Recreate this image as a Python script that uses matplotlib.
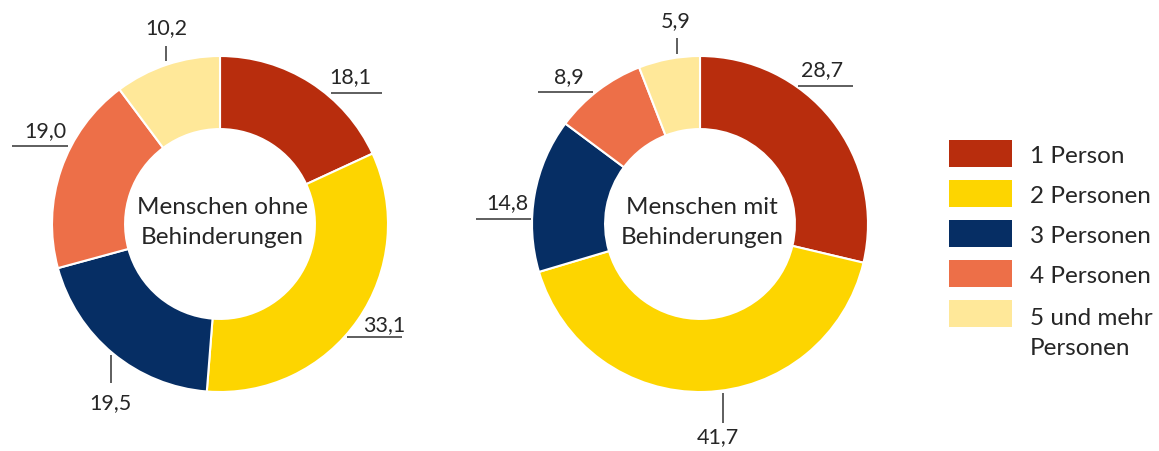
import matplotlib.pyplot as plt
from matplotlib.patches import Rectangle

W, H = 1159, 451

kategorien = ["1 Person", "2 Personen", "3 Personen", "4 Personen", "5 und mehr\nPersonen"]
ohne_behinderung = [18.1, 33.1, 19.5, 19.0, 10.2]
mit_behinderung = [28.7, 41.7, 14.8, 8.9, 5.9]
titel = ["Menschen ohne\nBehinderungen", "Menschen mit\nBehinderungen"]
farben = ["#B82D0D", "#FDD500", "#062E64", "#ED6F48", "#FFE899"]

# Führungslinien und Beschriftung je Segment, in Radien: (Linienstart, Linienende, Textmitte)
lage_ohne = [
    ((0.661, 0.780), (0.964, 0.780), (0.777, 0.875)),
    ((0.756, -0.673), (1.083, -0.673), (0.979, -0.601)),
    ((-0.649, -0.780), (-0.649, -0.946), (-0.655, -1.065)),
    ((-0.905, 0.464), (-1.238, 0.464), (-1.039, 0.554)),
    ((-0.321, 0.970), (-0.321, 1.060), (-0.321, 1.167)),
]
lage_mit = [
    ((0.583, 0.821), (0.911, 0.821), (0.726, 0.917)),
    ((0.137, -1.006), (0.137, -1.185), (0.107, -1.268)),
    ((-1.006, 0.030), (-1.333, 0.030), (-1.146, 0.125)),
    ((-0.637, 0.786), (-0.964, 0.786), (-0.780, 0.875)),
    ((-0.137, 1.012), (-0.137, 1.107), (-0.143, 1.208)),
]

plt.rcParams["font.family"] = ["Lato", "DejaVu Sans"]
textfarbe = "#262626"
zeilenabstand = 32  # Pixel

fig = plt.figure(figsize=(W / 100, H / 100), dpi=100)

R = 168          # Radius in Pixeln
lim = 1.5
s = 2 * lim * R
for (cx, cy), werte, lage, t in [((220, 224), ohne_behinderung, lage_ohne, titel[0]),
                                  ((700, 224), mit_behinderung, lage_mit, titel[1])]:
    ax = fig.add_axes([(cx - s / 2) / W, (H - cy - s / 2) / H, s / W, s / H])
    ax.pie(werte, colors=farben, startangle=90, counterclock=False, radius=1,
           wedgeprops=dict(width=0.435, edgecolor="white", linewidth=1.5))
    for v, (p0, p1, pt) in zip(werte, lage):
        ax.plot([p0[0], p1[0]], [p0[1], p1[1]], color="#333333", lw=1.1,
                clip_on=False, solid_capstyle="butt")
        ax.text(pt[0], pt[1], f"{v:.1f}".replace(".", ","), ha="center",
                va="center", fontsize=15.5, color=textfarbe)
    # Grundlinie der letzten Zeile 20 px unter der Mitte
    ax.text(0.012, -20 / R, t, ha="center", va="baseline", fontsize=17.5,
            color=textfarbe, linespacing=1.55)
    ax.set_xlim(-lim, lim)
    ax.set_ylim(-lim, lim)
    ax.set_aspect("equal")
    ax.axis("off")

# Legende
for i, (k, f) in enumerate(zip(kategorien, farben)):
    y = 153 + 40 * i
    fig.patches.append(Rectangle((949 / W, (H - y - 13.5) / H), 63 / W, 27 / H,
                                 facecolor=f, edgecolor="none",
                                 transform=fig.transFigure))
    basis = y + 10 + zeilenabstand * k.count("\n")
    fig.text(1030 / W, (H - basis) / H, k, ha="left", va="baseline",
             fontsize=17.5, color=textfarbe, linespacing=1.55)

fig.savefig("out.png", dpi=100, facecolor="white")
